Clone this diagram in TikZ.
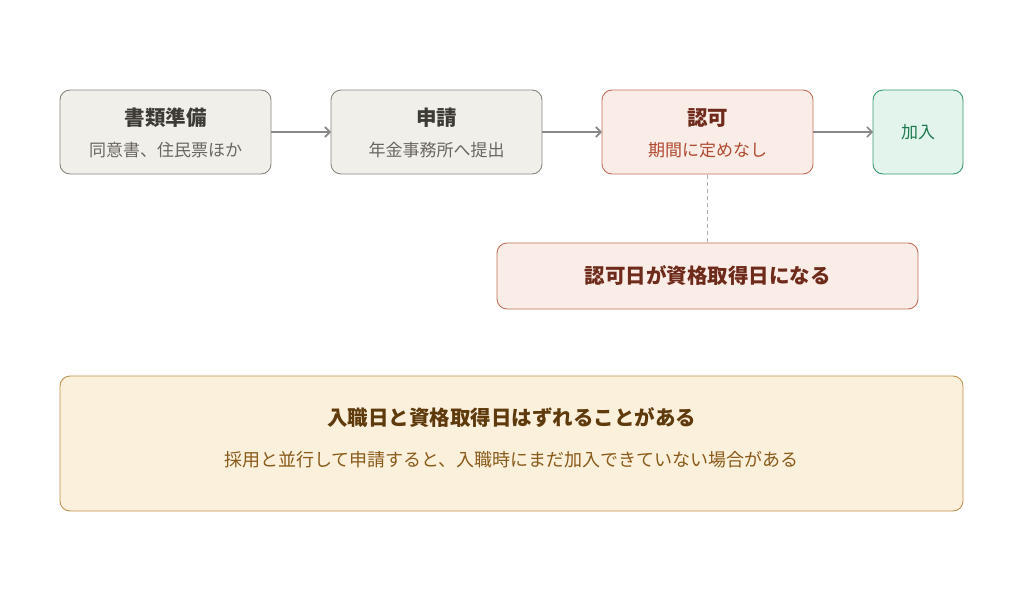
\documentclass[tikz,border=0pt]{standalone}
\usepackage{fontspec}
\setmainfont{Noto Sans CJK JP}
\usetikzlibrary{arrows.meta}
\definecolor{gfill}{HTML}{F1EFE9}\definecolor{gline}{HTML}{8A8780}
\definecolor{gtitle}{HTML}{3E3B36}\definecolor{gsub}{HTML}{6A6760}
\definecolor{rfill}{HTML}{FAECE7}\definecolor{rline}{HTML}{C0705A}
\definecolor{rtitle}{HTML}{6E2A1A}\definecolor{rsub}{HTML}{B04A30}
\definecolor{tfill}{HTML}{E3F4EC}\definecolor{tline}{HTML}{3A9A6E}\definecolor{ttext}{HTML}{1E7A50}
\definecolor{ofill}{HTML}{FBF0DC}\definecolor{oline}{HTML}{C09050}
\definecolor{otitle}{HTML}{5E3A0C}\definecolor{osub}{HTML}{8A5A1A}
\definecolor{arr}{HTML}{888888}
\begin{document}
\begin{tikzpicture}[x=1pt,y=-1pt,
 box/.style={draw,rounded corners=10pt,line width=0.9pt},
 title/.style={font=\fontsize{20.5}{22}\selectfont\bfseries},
 sub/.style={font=\fontsize{17}{19}\selectfont},
 conn/.style={draw=arr,line width=1.6pt,-{Straight Barb[length=5pt,width=10pt]}}]
\useasboundingbox (0,0) rectangle (1024,602);
\fill[white] (0,0) rectangle (1024,602);
\path[box,fill=gfill,draw=gline] (60,90) rectangle (271,174);
\node[title,text=gtitle] (a) at (165.5,118) {書類準備};
\node[sub,text=gsub] (as) at (165.5,150) {同意書、住民票ほか};
\path[box,fill=gfill,draw=gline] (331,90) rectangle (542,174);
\node[title,text=gtitle] (b) at (436.5,118) {申請};
\node[sub,text=gsub] (bs) at (436.5,150) {年金事務所へ提出};
\path[box,fill=rfill,draw=rline] (602,90) rectangle (813,174);
\node[title,text=rtitle] (c) at (707.5,118) {認可};
\node[sub,text=rsub] (cs) at (707.5,150) {期間に定めなし};
\path[box,fill=tfill,draw=tline] (873,90) rectangle (963,174);
\node[sub,text=ttext] (d) at (918,132) {加入};
\coordinate (ar) at (271,132); \coordinate (bl) at (331,132);
\coordinate (br) at (542,132); \coordinate (cl) at (602,132);
\coordinate (cr) at (813,132); \coordinate (dl) at (873,132);
\coordinate (cb) at (707.5,175); \coordinate (et) at (707.5,243);
\draw[conn] (ar) -- (bl);
\draw[conn] (br) -- (cl);
\draw[conn] (cr) -- (dl);
\draw[arr!70,line width=0.9pt,dash pattern=on 4pt off 3pt] (cb) -- (et);
\path[box,fill=rfill,draw=rline] (497,243) rectangle (918,309);
\node[title,text=rtitle] (e) at (707.5,276) {認可日が資格取得日になる};
\path[box,fill=ofill,draw=oline] (60,376) rectangle (963,511);
\node[title,text=otitle] (f) at (511.5,418) {入職日と資格取得日はずれることがある};
\node[sub,text=osub,font=\fontsize{18}{20}\selectfont] (fs) at (511.5,460) {採用と並行して申請すると、入職時にまだ加入できていない場合がある};
\end{tikzpicture}
\end{document}
